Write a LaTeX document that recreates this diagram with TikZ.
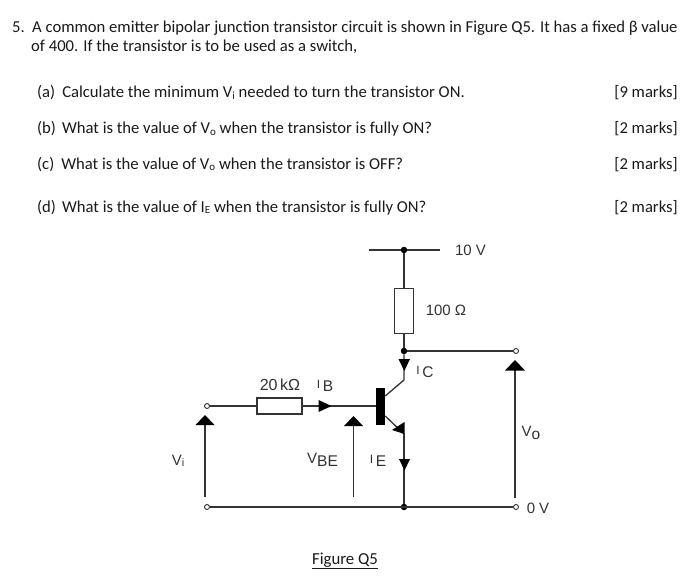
\documentclass[tikz,border=0pt]{standalone}
\usepackage{fontspec}
\setmainfont{Carlito}
\newfontfamily\cfont{Liberation Sans}
\usetikzlibrary{calc}
\definecolor{ink}{HTML}{1A1A1A}
\definecolor{wire}{HTML}{333333}
\newcommand{\lowsub}[1]{\raisebox{-1.5pt}{\fontsize{11}{11}\selectfont #1}}
\newcommand{\csub}[1]{\raisebox{-3.5pt}{\fontsize{15.5}{15.5}\selectfont #1}}
\newcommand{\smallI}{{\fontsize{12}{12}\selectfont I}}
\tikzset{
  qtext/.style={anchor=base west,inner sep=0pt,text=ink,font=\fontsize{16.65}{20}\selectfont},
  mtext/.style={anchor=base east,inner sep=0pt,text=ink,font=\fontsize{16.65}{20}\selectfont},
  clabel/.style={inner sep=0pt,text=wire,font=\cfont\fontsize{15}{17}\selectfont},
  wireline/.style={draw=wire,line width=1.3pt},
  thin wire/.style={draw=wire,line width=1.1pt},
  resistor/.style={draw=wire,line width=1.1pt,fill=white,minimum width=#1,inner sep=0pt},
  dotnode/.style={circle,fill=black,minimum size=6.5pt,inner sep=0pt},
  terminal/.style={circle,draw=wire,fill=white,line width=0.9pt,minimum size=5pt,inner sep=0pt},
  headfill/.style={fill=black,draw=none}
}
\begin{document}
\begin{tikzpicture}[x=1pt,y=-1pt]
\useasboundingbox (0,0) rectangle (687,588);
\fill[white] (0,0) rectangle (687,588);
% question text
\node[qtext] (n5) at (12,32.5) {5.};
\node[qtext] (l1) at (32,32.5) {A common emitter bipolar junction transistor circuit is shown in Figure Q5. It has a fixed β value};
\node[qtext] (l2) at (31,52) {of 400. If the transistor is to be used as a switch,};
\node[qtext] (qa) at (37,98) {(a)\hspace{7pt}Calculate the minimum V\lowsub{i} needed to turn the transistor ON.};
\node[qtext] (qb) at (37,134) {(b)\hspace{6pt}What is the value of V\lowsub{o} when the transistor is fully ON?};
\node[qtext] (qc) at (37,169) {(c)\hspace{7pt}What is the value of V\lowsub{o} when the transistor is OFF?};
\node[qtext] (qd) at (37,212) {(d)\hspace{6pt}What is the value of I\lowsub{E} when the transistor is fully ON?};
\node[mtext] (ma) at (678,98) {[9 marks]};
\node[mtext] (mb) at (678,134) {[2 marks]};
\node[mtext] (mc) at (678,169) {[2 marks]};
\node[mtext] (md) at (678,212) {[2 marks]};
% junctions and terminals
\coordinate (railL) at (369,250);
\coordinate (railR) at (440,250);
\node[dotnode] (top) at (404,250) {};
\node[resistor=18.5pt,minimum height=45.5pt] (rc) at (404,311) {};
\node[dotnode] (cj) at (404,351) {};
\node[terminal] (vo) at (516,351) {};
\node[terminal] (vi) at (207,406) {};
\node[resistor=45pt,minimum height=16pt] (rb) at (279.5,406) {};
\node[rectangle,fill=black,minimum width=9pt,minimum height=37pt,inner sep=0pt] (base) at (380.5,406) {};
\node[dotnode] (ej) at (404,507) {};
\node[terminal] (gi) at (207,507) {};
\node[terminal] (go) at (516,507) {};
\coordinate (ck) at (404,380);
\coordinate (ek) at (404,434);
% wires
\draw[thin wire] (railL) -- (top) -- (railR);
\draw[wireline] (top) -- (rc.north);
\draw[wireline] (rc.south) -- (cj);
\draw[wireline] (cj) -- (ck) -- (base.east |- 0,396);
\draw[wireline] (cj) -- (vo);
\draw[wireline] (vi) -- (rb.west);
\draw[wireline] (rb.east) -- (base.west);
\draw[wireline] (base.east |- 0,416) -- (ek);
\draw[wireline] (ek) -- (ej);
\draw[wireline] (gi) -- (go);
% emitter head
\fill[headfill] (404.5,434) -- (404.5,422) -- (392,430) -- cycle;
% current arrows
\fill[headfill] (398.5,359) -- (410,359) -- (404.3,371) -- cycle;
\fill[headfill] (399,459) -- (410,459) -- (404.5,470.5) -- cycle;
\fill[headfill] (318.5,400) -- (331.5,406) -- (318.5,412) -- cycle;
% voltage arrows
\coordinate (viB) at (205,497);
\coordinate (viT) at (205,420);
\coordinate (vbB) at (353.5,497);
\coordinate (vbT) at (353.5,420);
\coordinate (voB) at (515,498);
\coordinate (voT) at (515,365);
\draw[thin wire] (viB) -- (viT);
\draw[thin wire] (vbB) -- (vbT);
\draw[thin wire] (voB) -- (voT);
\fill[headfill] (195.5,425) -- (214.5,425) -- (205,415) -- cycle;
\fill[headfill] (344,426) -- (363,426) -- (353.5,416) -- cycle;
\fill[headfill] (505,370.5) -- (525,370.5) -- (515,360) -- cycle;
% labels
\node[clabel] (t10) at (470.5,250) {10 V};
\node[clabel] (t100) at (446,310) {100 Ω};
\node[clabel] (tic) at (425,372) {\smallI\,\csub{C}};
\node[clabel,font=\cfont\fontsize{16}{17}\selectfont] (t20) at (280,384.5) {20\,kΩ};
\node[clabel] (tib) at (325,386) {\smallI\,\csub{B}};
\node[clabel] (tvi) at (178,461) {V\lowsub{i}};
\node[clabel] (tvbe) at (322.5,460) {V\csub{BE}};
\node[clabel] (tie) at (378,461) {\smallI\,\csub{E}};
\node[clabel] (tvo) at (531,433) {V\csub{o}};
\node[clabel] (t0) at (538,508) {0 V};
\node[inner sep=0pt,text=ink,font=\fontsize{16.8}{20}\selectfont] (fig) at (345,561) {\underline{Figure Q5}};
\end{tikzpicture}
\end{document}
